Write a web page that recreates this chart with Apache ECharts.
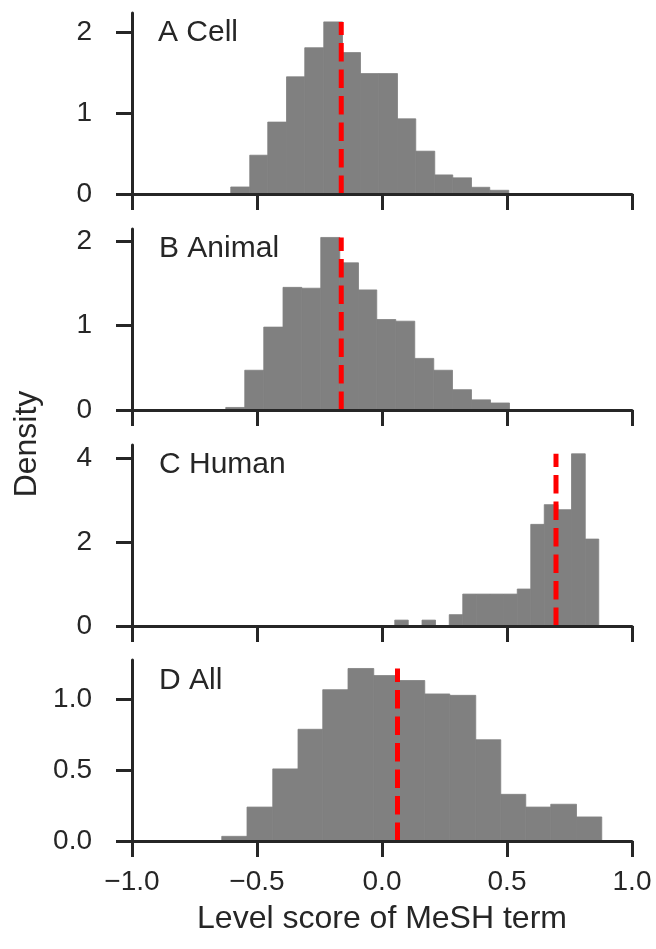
<!DOCTYPE html>
<html>
<head>
<meta charset="utf-8">
<script src="https://cdn.jsdelivr.net/npm/echarts@6/dist/echarts.min.js"></script>
<style>
html,body{margin:0;padding:0;background:#fff;}
#chart{width:656px;height:949px;}
</style>
</head>
<body>
<div id="chart"></div>
<script>
// ---- data ----
const panelLabels = ['A Cell', 'B Animal', 'C Human', 'D All'];

const cellEdges = [-0.605, -0.529, -0.457, -0.382, -0.309, -0.233, -0.158, -0.086, -0.013, 0.062, 0.135, 0.211, 0.283, 0.358, 0.431, 0.507];
const cellDensity = [0.087, 0.48, 0.89, 1.45, 1.81, 2.13, 1.75, 1.49, 1.49, 0.93, 0.53, 0.236, 0.20, 0.083, 0.046];
const cellMean = -0.163;

const animalEdges = [-0.625, -0.549, -0.473, -0.396, -0.321, -0.245, -0.169, -0.094, -0.021, 0.055, 0.131, 0.207, 0.282, 0.358, 0.434, 0.510];
const animalDensity = [0.03, 0.47, 0.98, 1.45, 1.44, 2.04, 1.74, 1.42, 1.07, 1.05, 0.61, 0.47, 0.24, 0.12, 0.083];
const animalMean = -0.163;

const humanEdges = [0.051, 0.105, 0.160, 0.214, 0.269, 0.323, 0.377, 0.432, 0.486, 0.541, 0.595, 0.649, 0.704, 0.758, 0.813, 0.867];
const humanDensity = [0.14, 0, 0.14, 0, 0.27, 0.76, 0.76, 0.76, 0.76, 0.88, 2.42, 2.89, 2.77, 4.10, 2.07];
const humanMean = 0.696;

const allEdges = [-0.641, -0.540, -0.437, -0.336, -0.237, -0.136, -0.033, 0.070, 0.171, 0.271, 0.375, 0.475, 0.575, 0.675, 0.778, 0.879];
const allDensity = [0.033, 0.24, 0.51, 0.79, 1.07, 1.22, 1.17, 1.135, 1.04, 1.03, 0.716, 0.33, 0.24, 0.26, 0.17];
const allMean = 0.062;

const xTicks = [-1.0, -0.5, 0.0, 0.5, 1.0];
const yTicksCell = [0, 1, 2];
const yTicksAnimal = [0, 1, 2];
const yTicksHuman = [0, 2, 4];
const yTicksAll = [0, 0.5, 1.0];
const yMaxes = [2.24, 2.14, 4.31, 1.28];
const xLabel = 'Level score of MeSH term';
const yLabel = 'Density';

// ---- build chart ----
const panels = [
  {edges: cellEdges, dens: cellDensity, mean: cellMean, yt: yTicksCell, dec: 0},
  {edges: animalEdges, dens: animalDensity, mean: animalMean, yt: yTicksAnimal, dec: 0},
  {edges: humanEdges, dens: humanDensity, mean: humanMean, yt: yTicksHuman, dec: 0},
  {edges: allEdges, dens: allDensity, mean: allMean, yt: yTicksAll, dec: 1}
];
const gridTops = [13, 229, 445, 660];
const gridH = 181;
const FONT = "'Liberation Sans', Arial, sans-serif";
const AX = '#262626';

const grids = [], xAxes = [], yAxes = [], series = [], graphics = [];
const labelPos = [[158, 35], [159, 250.5], [159, 466.5], [159, 682.5]];

panels.forEach((p, i) => {
  const last = i === panels.length - 1;
  grids.push({left: 132, right: 24, top: gridTops[i], height: gridH, containLabel: false});
  xAxes.push({
    type: 'value', gridIndex: i, min: -1, max: 1, interval: 0.5, z: 5,
    axisLine: {show: true, onZero: false, lineStyle: {color: AX, width: 3}},
    axisTick: {show: true, length: 16, lineStyle: {color: AX, width: 3}, customValues: xTicks},
    splitLine: {show: false},
    axisLabel: {
      show: last, fontSize: 28, color: AX, fontFamily: FONT, margin: 27,
      showMinLabel: true, showMaxLabel: true, customValues: xTicks,
      formatter: v => v.toFixed(1).replace('-', '\u2212')
    },
    name: last ? xLabel : '', nameLocation: 'middle', nameGap: 62,
    nameTextStyle: {fontSize: 32, color: AX, fontFamily: FONT}
  });
  yAxes.push({
    type: 'value', gridIndex: i, min: 0, max: yMaxes[i], z: 5,
    axisLine: {show: true, onZero: false, lineStyle: {color: AX, width: 3}},
    axisTick: {show: true, length: 16, lineStyle: {color: AX, width: 3}, customValues: p.yt},
    splitLine: {show: false},
    axisLabel: {
      fontSize: 28, color: AX, fontFamily: FONT, margin: 40, customValues: p.yt,
      formatter: v => v.toFixed(p.dec)
    }
  });
  const bins = p.dens.map((d, k) => [p.edges[k], p.edges[k + 1], d]);
  series.push({
    type: 'custom', xAxisIndex: i, yAxisIndex: i, data: bins, z: 2,
    encode: {x: [0, 1], y: 2},
    renderItem: (params, api) => {
      const a = api.coord([api.value(0), 0]);
      const b = api.coord([api.value(1), api.value(2)]);
      return {type: 'rect', shape: {x: a[0], y: b[1], width: b[0] - a[0], height: a[1] - b[1]},
              style: {fill: '#808080', stroke: '#808080', lineWidth: 0.8}};
    }
  });
  const peak = Math.max(...p.dens);
  series.push({
    type: 'line', xAxisIndex: i, yAxisIndex: i, z: 4,
    data: [[p.mean, 0], [p.mean, peak]],
    showSymbol: false, symbol: 'none', silent: true,
    lineStyle: {color: '#ff0000', width: 5, type: [18.5, 8], cap: 'butt'}
  });
  graphics.push({
    type: 'text', left: labelPos[i][0], top: labelPos[i][1] - 17,
    style: {text: panelLabels[i], fontSize: 30, fill: AX, fontFamily: FONT}
  });
});

graphics.push({
  type: 'text', x: 27, y: 444, rotation: Math.PI / 2,
  style: {text: yLabel, fontSize: 32, fill: AX, fontFamily: FONT, align: 'center', verticalAlign: 'middle'}
});

const chart = echarts.init(document.getElementById('chart'), null, {renderer: 'canvas'});
chart.setOption({
  animation: false,
  backgroundColor: '#ffffff',
  grid: grids, xAxis: xAxes, yAxis: yAxes, series: series, graphic: graphics
});
</script>
</body>
</html>
